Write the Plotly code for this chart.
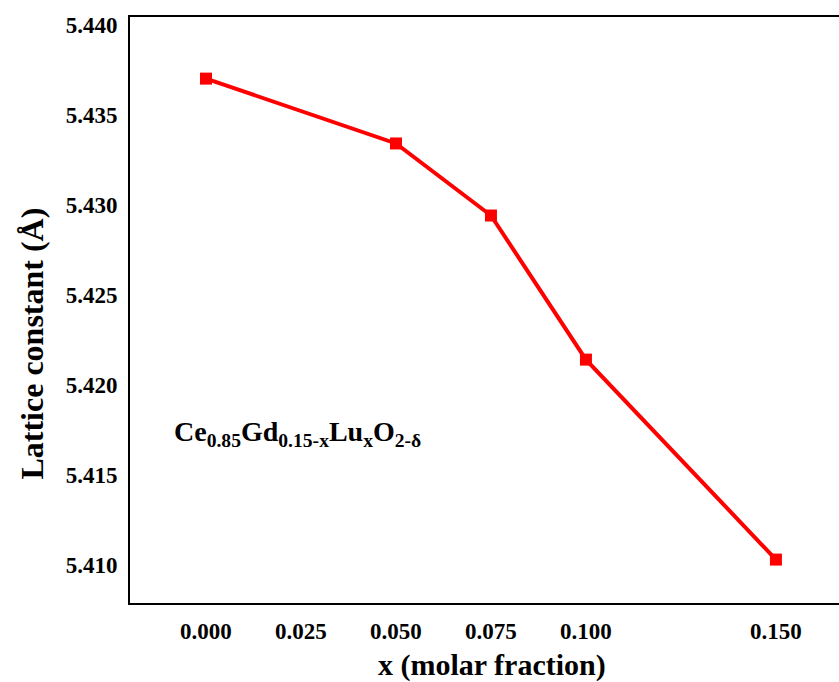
import plotly.graph_objects as go

# Lu content x in Ce0.85Gd0.15-xLuxO2-δ and refined lattice constants (Å)
x_frac = [0.000, 0.050, 0.075, 0.100, 0.150]
lattice = [5.4370, 5.4334, 5.4294, 5.4214, 5.4103]

x_ticks = [0.000, 0.025, 0.050, 0.075, 0.100, 0.150]
x_tick_text = ["0.000", "0.025", "0.050", "0.075", "0.100", "0.150"]
y_ticks = [5.410, 5.415, 5.420, 5.425, 5.430, 5.435, 5.440]
y_tick_text = ["5.410", "5.415", "5.420", "5.425", "5.430", "5.435", "5.440"]

FONT = "Liberation Serif"
RED = "#ff0000"

fig = go.Figure()
fig.add_trace(go.Scatter(
    x=x_frac, y=lattice,
    mode="lines+markers",
    line=dict(color=RED, width=4),
    marker=dict(symbol="square", size=12, color=RED),
    showlegend=False,
))

# composition label inside the plot
fig.add_annotation(
    x=-0.0090, y=5.4173, xref="x", yref="y",
    text="Ce<sub>0.85</sub>Gd<sub>0.15-x</sub>Lu<sub>x</sub>O<sub>2-δ</sub>",
    showarrow=False, xanchor="left", yanchor="middle",
    font=dict(family=FONT, size=28, color="black", weight="bold"),
)

# axis titles
fig.add_annotation(
    x=0.5106, y=-0.106, xref="paper", yref="paper",
    text="x (molar fraction)", showarrow=False,
    xanchor="center", yanchor="middle",
    font=dict(family=FONT, size=30, color="black", weight="bold"),
)
fig.add_annotation(
    x=-0.138, y=0.443, xref="paper", yref="paper",
    text="Lattice constant (Å)", showarrow=False, textangle=-90,
    xanchor="center", yanchor="middle",
    font=dict(family=FONT, size=32, color="black", weight="bold"),
)

tick_font = dict(family=FONT, size=23, color="black", weight="bold")

fig.update_layout(
    width=839, height=682,
    margin=dict(l=130, r=0, t=17, b=79),
    paper_bgcolor="white", plot_bgcolor="white",
    font=dict(family=FONT, color="black"),
    xaxis=dict(
        range=[-0.02, 0.1666],
        tickvals=x_ticks, ticktext=[f"<b>{t}</b>" for t in x_tick_text],
        tickfont=tick_font,
        showgrid=False, zeroline=False,
        showline=True, linecolor="black", linewidth=2, mirror=True,
        ticks="outside", ticklen=6, tickcolor="rgba(0,0,0,0)",
    ),
    yaxis=dict(
        range=[5.40789, 5.44042],
        tickvals=y_ticks, ticktext=[f"<b>{t}</b>" for t in y_tick_text],
        tickfont=tick_font,
        showgrid=False, zeroline=False,
        showline=True, linecolor="black", linewidth=2, mirror=False,
        ticks="outside", ticklen=6, tickcolor="rgba(0,0,0,0)",
    ),
)

fig.write_html("out.html")
